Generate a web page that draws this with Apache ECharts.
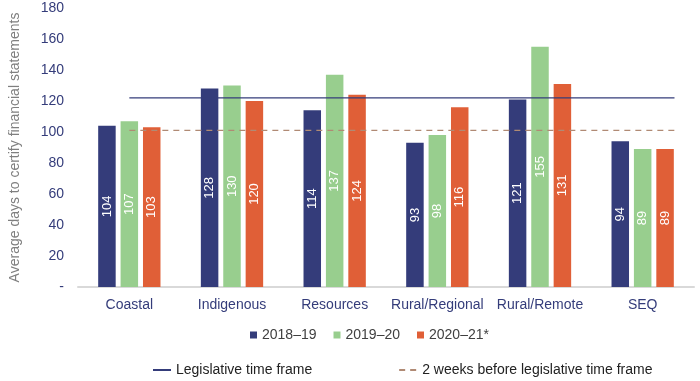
<!DOCTYPE html>
<html><head><meta charset="utf-8">
<script src="https://cdn.jsdelivr.net/npm/echarts@6/dist/echarts.min.js"></script>
<style>html,body{margin:0;padding:0;background:#fff}#c{width:700px;height:381px}</style>
</head><body><div id="c"></div>
<script>
const categories = ['Coastal','Indigenous','Resources','Rural/Regional','Rural/Remote','SEQ'];
const s2018 = [104,128,114,93,121,94];
const s2019 = [107,130,137,98,155,89];
const s2020 = [103,120,124,116,131,89];
const seriesNames = ['2018–19','2019–20','2020–21*'];
const legislative = [[0.5,122],[5.81,122]];
const twoWeeks = [[0.5,101],[5.81,101]];
const yTicks = {min:0,max:180,interval:20};

const colors = ['#343C7A','#98CE8E','#E05F37'];
const font = 'Liberation Sans, Arial, sans-serif';
const barLabel = {show:true,position:'inside',rotate:90,color:'#fff',fontSize:13,fontFamily:font};
function bar(name,data,color){
  return {name,type:'bar',data,barWidth:17.5,barGap:'28%',itemStyle:{color},label:barLabel,xAxisIndex:0,yAxisIndex:0};
}
const chart = echarts.init(document.getElementById('c'));
chart.setOption({
  animation:false,
  textStyle:{fontFamily:font},
  grid:{left:72,right:6,top:8,bottom:94},
  xAxis:[
    {type:'category',data:categories,axisTick:{show:false},
     axisLine:{lineStyle:{color:'#D9D9D9',width:2}},
     axisLabel:{color:'#343C7A',fontSize:14,fontFamily:font,margin:11,interval:0}},
    {type:'value',min:0,max:6,show:false}
  ],
  yAxis:{type:'value',min:yTicks.min,max:yTicks.max,interval:yTicks.interval,
    splitLine:{show:false},axisLine:{show:false},axisTick:{show:false},
    axisLabel:{color:'#343C7A',fontSize:14,fontFamily:font,margin:14,
      formatter:v=>v===0?'-':String(v)},
    name:'Average days to certify financial statements',nameLocation:'middle',nameGap:56,
    nameTextStyle:{color:'#7F7F7F',fontSize:14,fontFamily:font}},
  legend:[
    {data:seriesNames,left:245,top:323,icon:'rect',itemWidth:7,itemHeight:7,itemGap:17,
     textStyle:{color:'#404040',fontSize:14,fontFamily:font}},
    {data:['Legislative time frame','2 weeks before legislative time frame'],left:147,top:358,
     itemWidth:18,itemHeight:10,itemGap:86,itemStyle:{opacity:0},
     textStyle:{color:'#222',fontSize:14,fontFamily:font}}
  ],
  series:[
    bar(seriesNames[0],s2018,colors[0]),
    bar(seriesNames[1],s2019,colors[1]),
    bar(seriesNames[2],s2020,colors[2]),
    {name:'Legislative time frame',type:'line',xAxisIndex:1,yAxisIndex:0,data:legislative,
     symbol:'none',lineStyle:{color:'#343C7A',width:1.3},itemStyle:{color:'#343C7A'},z:5},
    {name:'2 weeks before legislative time frame',type:'line',xAxisIndex:1,yAxisIndex:0,data:twoWeeks,
     symbol:'none',lineStyle:{color:'#B08A74',width:1.3,type:[6,5]},itemStyle:{color:'#B08A74'},z:5}
  ]
});
</script></body></html>
